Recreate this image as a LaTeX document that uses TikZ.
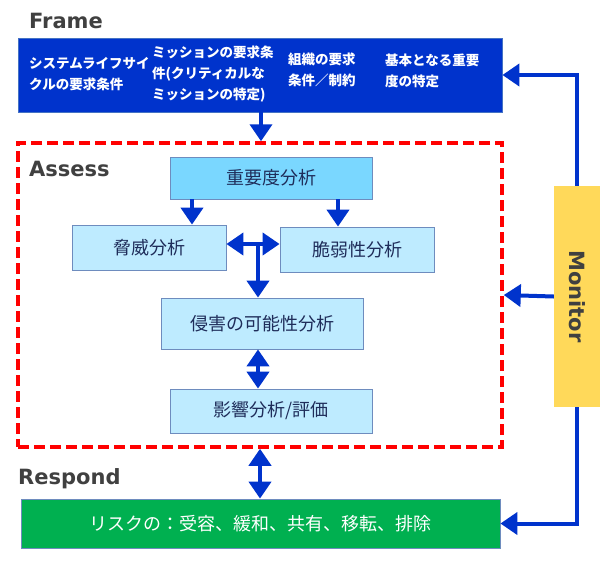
\documentclass[tikz,border=0pt]{standalone}
\usepackage{fontspec}
\setmainfont{Noto Sans CJK JP}
\newfontfamily\lab{DejaVu Sans}
\usetikzlibrary{arrows.meta}
\definecolor{mblue}{RGB}{0,51,204}
\definecolor{fborder}{RGB}{68,114,196}
\definecolor{bborder}{RGB}{110,140,190}
\definecolor{impfill}{RGB}{122,215,255}
\definecolor{lfill}{RGB}{190,235,255}
\definecolor{gfill}{RGB}{0,176,80}
\definecolor{yfill}{RGB}{255,217,90}
\definecolor{labgray}{RGB}{64,64,64}
\definecolor{navy}{RGB}{31,45,90}
\begin{document}
\begin{tikzpicture}[x=1pt,y=-1pt,
  arr/.style={draw=mblue,line width=4pt,-{Triangle[length=17pt,width=22pt]}},
  darr/.style={draw=mblue,line width=4pt,{Triangle[length=17pt,width=22pt]}-{Triangle[length=17pt,width=22pt]}},
  lbox/.style={draw=bborder,line width=0.8pt,fill=lfill,text=navy,font=\fontsize{18}{21}\selectfont,inner sep=0pt},
  ftext/.style={text=white,font=\fontsize{13.5}{21}\selectfont\bfseries,align=left,anchor=west,inner sep=0pt},
  sect/.style={text=labgray,font=\lab\fontsize{21}{24}\selectfont\bfseries,anchor=base west,inner sep=0pt}]
\useasboundingbox (0,0) rectangle (612,560);
% section labels
\node[sect] (lframe) at (29,28) {Frame};
\node[sect] (lassess) at (29,176) {Assess};
\node[sect] (lresp) at (18,484) {Respond};
% frame box
\node[draw=fborder,line width=0.8pt,fill=mblue,minimum width=484pt,minimum height=74pt,inner sep=0pt] (frame) at (260,75) {};
\node[ftext] (f1) at (29,74) {システムライフサイ\\クルの要求条件};
\node[ftext] (f2) at (152,74) {ミッションの要求条\\件(クリティカルな\\ミッションの特定)};
\node[ftext] (f3) at (288,70) {組織の要求\\条件／制約};
\node[ftext] (f4) at (385,71) {基本となる重要\\度の特定};
% assess dashed box
\node[draw=red,line width=3.5pt,dash pattern=on 11pt off 5pt,minimum width=484pt,minimum height=304pt,inner sep=0pt] (assess) at (260,295) {};
% inner boxes
\node[lbox,fill=impfill,minimum width=202pt,minimum height=42pt] (imp) at (271,178) {重要度分析};
\node[lbox,minimum width=154pt,minimum height=45pt] (thr) at (149,247.5) {脅威分析};
\node[lbox,minimum width=154pt,minimum height=45pt] (vul) at (357,249.5) {脆弱性分析};
\node[lbox,minimum width=202pt,minimum height=51pt] (pos) at (262,323.5) {侵害の可能性分析};
\node[lbox,minimum width=202pt,minimum height=44pt] (imf) at (271,411) {影響分析/評価};
% respond box
\node[draw=bborder,line width=0.8pt,fill=gfill,text=white,font=\fontsize{18}{21}\selectfont,minimum width=479pt,minimum height=49pt,inner sep=0pt] (resp) at (260.5,523.5) {リスクの：受容、緩和、共有、移転、排除};
% monitor
\node[fill=yfill,minimum width=46pt,minimum height=221pt,inner sep=0pt] (mon) at (577,296.5) {};
\node[rotate=-90,text=labgray,font=\lab\fontsize{21}{24}\selectfont\bfseries,inner sep=0pt] (montext) at (mon.center) {Monitor};
% helper coordinates
\coordinate (c1) at (192,0);
\coordinate (c2) at (338,0);
\coordinate (c3) at (0,244);
\coordinate (c4) at (258,244);
\coordinate (c5) at (260,0);
\coordinate (c6) at (261,0);
% connectors
\draw[arr] (frame.south -| c6) -- (assess.north -| c6);
\draw[arr] (imp.south -| c1) -- (thr.north -| c1);
\draw[arr] (imp.south -| c2) -- (vul.north -| c2);
\draw[darr] (thr.east |- c3) -- (vul.west |- c3);
\draw[arr] (c4) -- (pos.north -| c4);
\draw[darr] (pos.south -| c4) -- (imf.north -| c4);
\draw[darr] (assess.south -| c5) -- (resp.north -| c5);
\draw[arr] (mon.north) |- (frame.east);
\draw[arr] (mon.west) -- (assess.east);
\draw[arr] (mon.south) |- (resp.east);
\end{tikzpicture}
\end{document}
